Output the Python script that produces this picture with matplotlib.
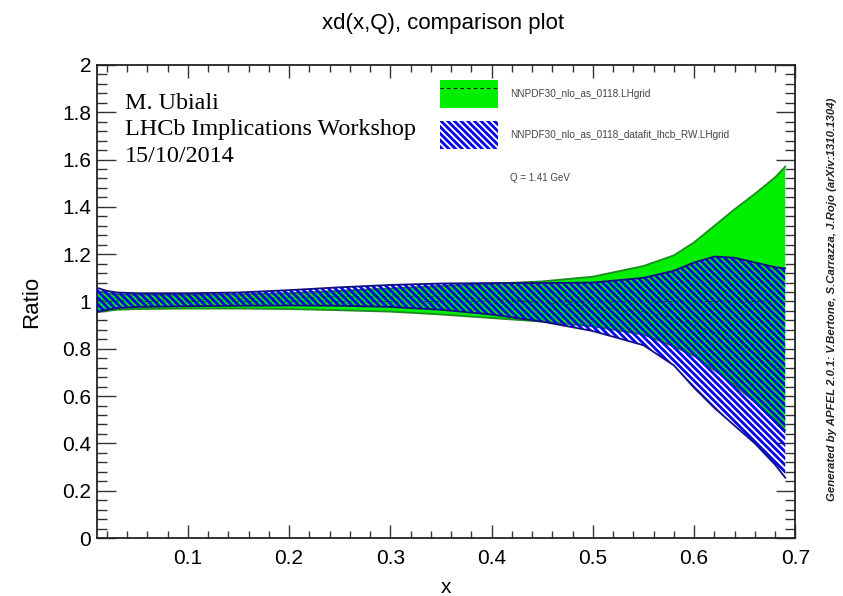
import matplotlib
matplotlib.use("Agg")
import matplotlib.pyplot as plt
from matplotlib.patches import Patch
from matplotlib.lines import Line2D
from matplotlib.ticker import MultipleLocator

plt.rcParams['font.family'] = ['Liberation Sans', 'DejaVu Sans']
plt.rcParams['hatch.linewidth'] = 2.0
plt.rcParams['hatch.color'] = '#0000ee'

# ---- data ----
x = [0.01, 0.02, 0.03, 0.05, 0.10, 0.15, 0.20, 0.25, 0.30, 0.35, 0.40, 0.45,
     0.50, 0.55, 0.58, 0.60, 0.62, 0.64, 0.66, 0.68, 0.69]
ref_up = [1.045, 1.035, 1.030, 1.028, 1.028, 1.030, 1.035, 1.045, 1.055, 1.065, 1.075, 1.085,
          1.105, 1.150, 1.195, 1.250, 1.320, 1.390, 1.455, 1.525, 1.570]
ref_lo = [0.955, 0.960, 0.965, 0.968, 0.970, 0.970, 0.968, 0.963, 0.957, 0.945, 0.930, 0.915,
          0.895, 0.860, 0.810, 0.770, 0.710, 0.645, 0.575, 0.500, 0.455]
ref_cv = [1.0] * len(x)
rw_up = [1.058, 1.045, 1.038, 1.035, 1.035, 1.038, 1.048, 1.060, 1.070, 1.076, 1.078, 1.078,
         1.080, 1.100, 1.130, 1.165, 1.190, 1.185, 1.165, 1.145, 1.140]
rw_lo = [0.955, 0.965, 0.972, 0.977, 0.980, 0.982, 0.983, 0.982, 0.977, 0.965, 0.945, 0.915,
         0.875, 0.815, 0.730, 0.635, 0.550, 0.475, 0.400, 0.310, 0.255]
rw_cv = [1.006, 1.005, 1.005, 1.006, 1.007, 1.010, 1.015, 1.021, 1.023, 1.020, 1.011, 0.996,
         0.977, 0.957, 0.930, 0.900, 0.870, 0.830, 0.783, 0.728, 0.698]

labels = ["NNPDF30_nlo_as_0118.LHgrid",
          "NNPDF30_nlo_as_0118_datafit_lhcb_RW.LHgrid"]
title = "xd(x,Q), comparison plot"
note_lines = ["M. Ubiali", "LHCb Implications Workshop", "15/10/2014"]
q_label = "Q = 1.41 GeV"
credit = "Generated by APFEL 2.0.1: V.Bertone, S.Carrazza, J.Rojo (arXiv:1310.1304)"

GREEN = '#00ee00'
DKGREEN = '#1f8a1f'
BLUE = '#0000ee'
DKBLUE = '#101080'
HATCH = '\\' * 5

fig = plt.figure(figsize=(8.43, 5.96), dpi=100)
ax = fig.add_axes([0.1147, 0.0973, 0.8288, 0.7937])

# reference band
ax.fill_between(x, ref_lo, ref_up, facecolor=GREEN, edgecolor='none', zorder=2)
ax.plot(x, ref_up, color=DKGREEN, lw=1.3, zorder=3)
ax.plot(x, ref_lo, color=DKGREEN, lw=1.3, zorder=3)
ax.plot(x, ref_cv, color='black', lw=0.7, ls=(0, (3, 3)), alpha=0.5, zorder=3)

# reweighted band (hatched)
ax.fill_between(x, rw_lo, rw_up, facecolor='none', edgecolor=BLUE, linewidth=0,
                hatch=HATCH, zorder=4)
ax.plot(x, rw_up, color=DKBLUE, lw=1.3, zorder=5)
ax.plot(x, rw_lo, color=DKBLUE, lw=1.3, zorder=5)
ax.plot(x, rw_cv, color='black', lw=0.6, ls=(0, (3, 3)), alpha=0.4, zorder=5)

ax.set_xlim(0.01, 0.7)
ax.set_ylim(0, 2)
ax.xaxis.set_minor_locator(MultipleLocator(0.02))
ax.yaxis.set_minor_locator(MultipleLocator(0.04))
ax.set_xticks([0.1, 0.2, 0.3, 0.4, 0.5, 0.6, 0.7])
ax.set_xticklabels(['0.1', '0.2', '0.3', '0.4', '0.5', '0.6', '0.7'])
ax.set_yticks([0, 0.2, 0.4, 0.6, 0.8, 1.0, 1.2, 1.4, 1.6, 1.8, 2.0])
ax.set_yticklabels(['0', '0.2', '0.4', '0.6', '0.8', '1', '1.2', '1.4', '1.6', '1.8', '2'])

ax.tick_params(axis='both', which='both', direction='in', top=True, right=True,
               color='#333333', width=1.0)
ax.tick_params(axis='x', which='major', length=9.5, labelsize=15, pad=8)
ax.tick_params(axis='x', which='minor', length=5)
ax.tick_params(axis='y', which='major', length=14, labelsize=15, pad=4)
ax.tick_params(axis='y', which='minor', length=7.5)
for s in ax.spines.values():
    s.set_linewidth(1.3)
    s.set_color('#222222')

ax.set_xlabel('x', fontsize=15, labelpad=7)
ax.set_ylabel('Ratio', fontsize=16, labelpad=14)
fig.text(0.5256, 0.960, title, fontsize=16, ha='center', va='center')

ax.text(0.041, 0.940, "\n".join(note_lines), transform=ax.transAxes,
        family=['Liberation Serif', 'DejaVu Serif'], fontsize=17.4,
        va='top', ha='left', linespacing=1.32)

handles = [(Patch(facecolor=GREEN, edgecolor='none'),
            Line2D([], [], color='black', ls=(0, (3, 3)), lw=0.8)),
           Patch(facecolor='white', edgecolor=BLUE, hatch=HATCH, linewidth=0)]
leg = ax.legend(handles, labels, loc='upper left', bbox_to_anchor=(0.491, 0.968),
                frameon=False, fontsize=7.2, handlelength=5.83, handleheight=3.9,
                labelspacing=1.3, borderpad=0, handletextpad=1.25, borderaxespad=0)
for t in leg.get_texts():
    t.set_color('#444444')
ax.text(0.591, 0.762, q_label, transform=ax.transAxes, fontsize=7.0,
        color='#444444', va='center', ha='left')

fig.text(0.9875, 0.497, credit, rotation=90, fontsize=8.2, fontstyle='italic',
         fontweight='bold', ha='center', va='center', color='#222222')

fig.savefig('out.png', dpi=100)
